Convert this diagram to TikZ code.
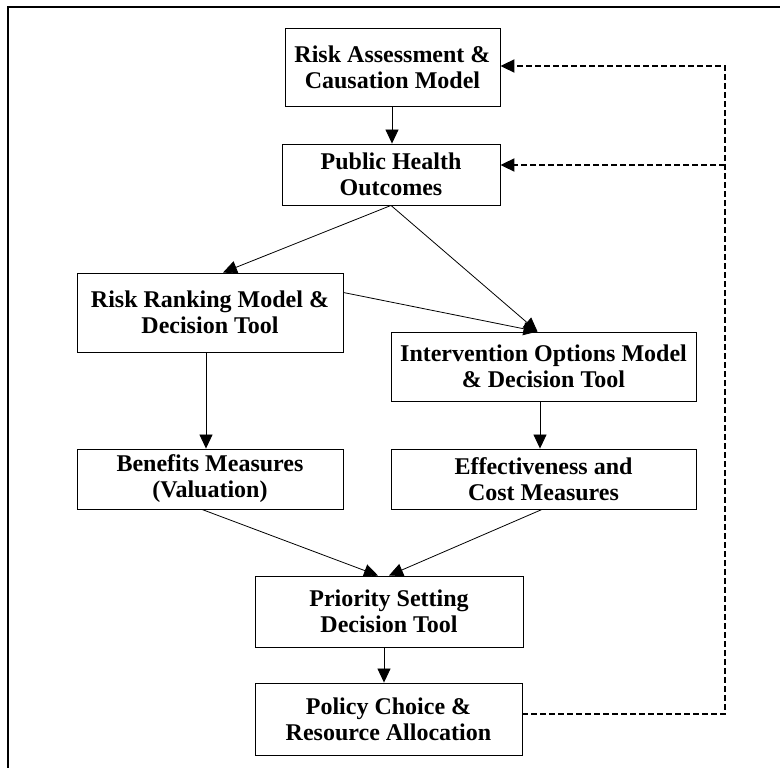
\documentclass[tikz,border=0pt]{standalone}
\usepackage{fontspec}
\setmainfont{Liberation Serif}
\usetikzlibrary{arrows.meta,positioning}

\begin{document}
\begin{tikzpicture}[x=1pt,y=-1pt,->,>={Triangle[length=14pt,width=13pt]},line width=0.8pt,
    box/.style={draw,line width=0.9pt,align=center,inner sep=0pt,font=\fontsize{24}{26}\selectfont\bfseries},
    back edge/.style={->,line width=2pt,dash pattern=on 6pt off 3pt}]

    \useasboundingbox (0,0) rectangle (780,768);
    \draw[-,line width=1.8pt] (8,775) |- (785,7);

    \node[box,minimum width=215pt,minimum height=78pt] (ra) at (392.5,67) {Risk Assessment \&\\Causation Model};
    \node[box,minimum width=218pt,minimum height=61pt] (ph) at (391,174.5) {Public Health\\Outcomes};
    \node[box,minimum width=266pt,minimum height=79pt] (rr) at (210,312.5) {Risk Ranking Model \&\\Decision Tool};
    \node[box,minimum width=305pt,minimum height=69pt] (io) at (543.5,366.5) {Intervention Options Model\\\& Decision Tool};
    \node[box,minimum width=266pt,minimum height=60pt] (bm) at (210,479) {Benefits Measures\\(Valuation)};
    \node[box,minimum width=305pt,minimum height=60pt] (ec) at (543.5,479) {Effectiveness and\\Cost Measures};
    \node[box,minimum width=268pt,minimum height=71pt] (ps) at (389,611.5) {Priority Setting\\Decision Tool};
    \node[box,minimum width=267pt,minimum height=72pt] (pc) at (388.5,719) {Policy Choice \&\\Resource Allocation};

    \path
    ([xshift=-0.5pt]ra.south) edge ([xshift=-0.5pt]ra.south |- ph.north)
    (ph.south) edge ([xshift=13pt]rr.north)
    (ph.south) edge ([xshift=-6pt]io.north)
    ([yshift=20pt]rr.east) edge ([xshift=-6pt]io.north)
    ([xshift=-4pt]rr.south) edge ([xshift=-4pt]rr.south |- bm.north)
    ([xshift=-3.5pt]io.south) edge ([xshift=-3.5pt]io.south |- ec.north)
    ([xshift=-8pt]bm.south) edge ([xshift=-11pt]ps.north)
    ([xshift=-1.5pt]ec.south) edge (ps.north)
    ([xshift=-5pt]ps.south) edge ([xshift=-5pt]ps.south |- pc.north)
    ;

    % feedback loop
    \coordinate (top) at (725,66);
    \coordinate (mid) at (725,165);
    \draw[back edge] ([yshift=5pt]pc.east) -| (top) -- (top -| ra.east);
    \draw[back edge] (mid) -- (mid -| ph.east);
\end{tikzpicture}
\end{document}
